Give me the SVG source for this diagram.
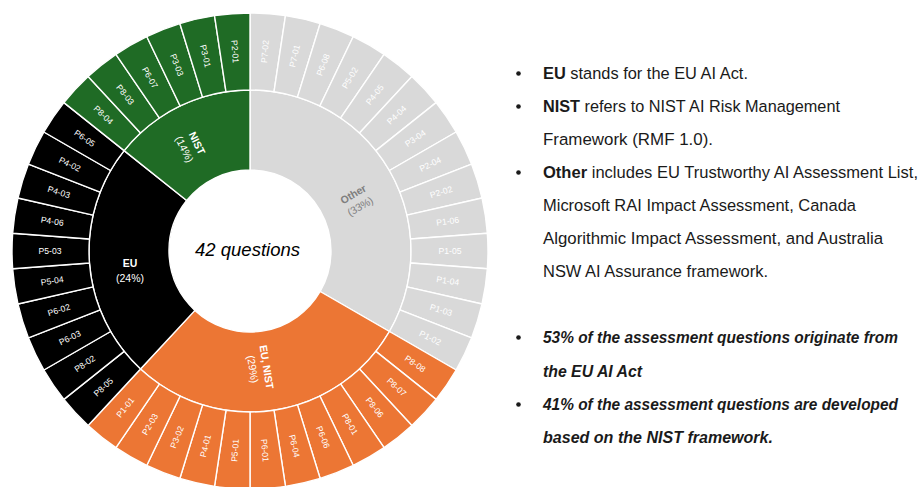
<svg xmlns="http://www.w3.org/2000/svg" xmlns:xlink="http://www.w3.org/1999/xlink" width="920" height="487" viewBox="0 0 920 487">
<style>
.w{stroke:#fff;stroke-width:1.4;stroke-linejoin:round}
.o{fill:#d9d9d9}.en{fill:#ec7634}.eu{fill:#000}.ni{fill:#1f6b25}
.lb{font-family:"Liberation Sans",Arial,sans-serif;font-size:8.6px;fill:#fff;text-anchor:middle;dominant-baseline:central}
.il{font-family:"Liberation Sans",Arial,sans-serif;font-size:10.5px;fill:#fff;text-anchor:middle}
.ib{font-weight:bold}
.tx{font-family:"Liberation Sans",Arial,sans-serif;font-size:16.3px;fill:#1a1a1a}
.bi{font-weight:bold;font-style:italic}
.bul{fill:#1a1a1a}
</style>
<defs>
<path id="wedge" d="M -17.786 -237.335 A 238 238 0 0 1 17.786 -237.335 L 12.031 -160.550 A 161 161 0 0 0 -12.031 -160.550 Z"/>
</defs>
<rect width="920" height="487" fill="#fff"/>

<g id="inner">
<g id="cat-other"><path class="o w" d="M 250 90 A 161 161 0 0 1 389.43 331.5 L 320.15 291.5 A 81 81 0 0 0 250 170 Z"/>
<text class="il" transform="translate(356.5,200) rotate(-30)" style="fill:#7f7f7f"><tspan class="ib" x="0" y="-3">Other</tspan><tspan x="0" y="11">(33%)</tspan></text></g>
<g id="cat-eunist"><path class="en w" d="M 389.43 331.5 A 161 161 0 0 1 140.49 369.02 L 194.91 310.38 A 81 81 0 0 0 320.15 291.5 Z"/>
<text class="il" transform="translate(260,368) rotate(81)"><tspan class="ib" x="0" y="-3">EU, NIST</tspan><tspan x="0" y="11">(29%)</tspan></text></g>
<g id="cat-eu"><path class="eu w" d="M 140.49 369.02 A 161 161 0 0 1 124.13 150.62 L 186.67 200.50 A 81 81 0 0 0 194.91 310.38 Z"/>
<text class="il" transform="translate(130,270)"><tspan class="ib" x="0" y="-3">EU</tspan><tspan x="0" y="12">(24%)</tspan></text></g>
<g id="cat-nist"><path class="ni w" d="M 124.13 150.62 A 161 161 0 0 1 250 90 L 250 170 A 81 81 0 0 0 186.67 200.50 Z"/>
<text class="il" transform="translate(191,146) rotate(64)"><tspan class="ib" x="0" y="-3">NIST</tspan><tspan x="0" y="11">(14%)</tspan></text></g>
</g>

<g id="outer">
<g id="s-P7-02" transform="translate(250,251) rotate(4.286)"><use href="#wedge" class="o w"/><text class="lb" transform="translate(0,-200) rotate(-90)">P7-02</text></g>
<g id="s-P7-01" transform="translate(250,251) rotate(12.857)"><use href="#wedge" class="o w"/><text class="lb" transform="translate(0,-200) rotate(-90)">P7-01</text></g>
<g id="s-P6-08" transform="translate(250,251) rotate(21.429)"><use href="#wedge" class="o w"/><text class="lb" transform="translate(0,-200) rotate(-90)">P6-08</text></g>
<g id="s-P5-02" transform="translate(250,251) rotate(30)"><use href="#wedge" class="o w"/><text class="lb" transform="translate(0,-200) rotate(-90)">P5-02</text></g>
<g id="s-P4-05" transform="translate(250,251) rotate(38.571)"><use href="#wedge" class="o w"/><text class="lb" transform="translate(0,-200) rotate(-90)">P4-05</text></g>
<g id="s-P4-04" transform="translate(250,251) rotate(47.143)"><use href="#wedge" class="o w"/><text class="lb" transform="translate(0,-200) rotate(-90)">P4-04</text></g>
<g id="s-P3-04" transform="translate(250,251) rotate(55.714)"><use href="#wedge" class="o w"/><text class="lb" transform="translate(0,-200) rotate(-90)">P3-04</text></g>
<g id="s-P2-04" transform="translate(250,251) rotate(64.286)"><use href="#wedge" class="o w"/><text class="lb" transform="translate(0,-200) rotate(-90)">P2-04</text></g>
<g id="s-P2-02" transform="translate(250,251) rotate(72.857)"><use href="#wedge" class="o w"/><text class="lb" transform="translate(0,-200) rotate(-90)">P2-02</text></g>
<g id="s-P1-06" transform="translate(250,251) rotate(81.429)"><use href="#wedge" class="o w"/><text class="lb" transform="translate(0,-200) rotate(-90)">P1-06</text></g>
<g id="s-P1-05" transform="translate(250,251) rotate(90)"><use href="#wedge" class="o w"/><text class="lb" transform="translate(0,-200) rotate(-90)">P1-05</text></g>
<g id="s-P1-04" transform="translate(250,251) rotate(98.571)"><use href="#wedge" class="o w"/><text class="lb" transform="translate(0,-200) rotate(-90)">P1-04</text></g>
<g id="s-P1-03" transform="translate(250,251) rotate(107.143)"><use href="#wedge" class="o w"/><text class="lb" transform="translate(0,-200) rotate(-90)">P1-03</text></g>
<g id="s-P1-02" transform="translate(250,251) rotate(115.714)"><use href="#wedge" class="o w"/><text class="lb" transform="translate(0,-200) rotate(-90)">P1-02</text></g>
<g id="s-P8-08" transform="translate(250,251) rotate(124.286)"><use href="#wedge" class="en w"/><text class="lb" transform="translate(0,-200) rotate(-90)">P8-08</text></g>
<g id="s-P8-07" transform="translate(250,251) rotate(132.857)"><use href="#wedge" class="en w"/><text class="lb" transform="translate(0,-200) rotate(-90)">P8-07</text></g>
<g id="s-P8-06" transform="translate(250,251) rotate(141.429)"><use href="#wedge" class="en w"/><text class="lb" transform="translate(0,-200) rotate(-90)">P8-06</text></g>
<g id="s-P8-01" transform="translate(250,251) rotate(150)"><use href="#wedge" class="en w"/><text class="lb" transform="translate(0,-200) rotate(-90)">P8-01</text></g>
<g id="s-P6-06" transform="translate(250,251) rotate(158.571)"><use href="#wedge" class="en w"/><text class="lb" transform="translate(0,-200) rotate(-90)">P6-06</text></g>
<g id="s-P6-04" transform="translate(250,251) rotate(167.143)"><use href="#wedge" class="en w"/><text class="lb" transform="translate(0,-200) rotate(-90)">P6-04</text></g>
<g id="s-P6-01" transform="translate(250,251) rotate(175.714)"><use href="#wedge" class="en w"/><text class="lb" transform="translate(0,-200) rotate(-90)">P6-01</text></g>
<g id="s-P5-01" transform="translate(250,251) rotate(184.286)"><use href="#wedge" class="en w"/><text class="lb" transform="translate(0,-200) rotate(90)">P5-01</text></g>
<g id="s-P4-01" transform="translate(250,251) rotate(192.857)"><use href="#wedge" class="en w"/><text class="lb" transform="translate(0,-200) rotate(90)">P4-01</text></g>
<g id="s-P3-02" transform="translate(250,251) rotate(201.429)"><use href="#wedge" class="en w"/><text class="lb" transform="translate(0,-200) rotate(90)">P3-02</text></g>
<g id="s-P2-03" transform="translate(250,251) rotate(210)"><use href="#wedge" class="en w"/><text class="lb" transform="translate(0,-200) rotate(90)">P2-03</text></g>
<g id="s-P1-01" transform="translate(250,251) rotate(218.571)"><use href="#wedge" class="en w"/><text class="lb" transform="translate(0,-200) rotate(90)">P1-01</text></g>
<g id="s-P8-05" transform="translate(250,251) rotate(227.143)"><use href="#wedge" class="eu w"/><text class="lb" transform="translate(0,-200) rotate(90)">P8-05</text></g>
<g id="s-P8-02" transform="translate(250,251) rotate(235.714)"><use href="#wedge" class="eu w"/><text class="lb" transform="translate(0,-200) rotate(90)">P8-02</text></g>
<g id="s-P6-03" transform="translate(250,251) rotate(244.286)"><use href="#wedge" class="eu w"/><text class="lb" transform="translate(0,-200) rotate(90)">P6-03</text></g>
<g id="s-P6-02" transform="translate(250,251) rotate(252.857)"><use href="#wedge" class="eu w"/><text class="lb" transform="translate(0,-200) rotate(90)">P6-02</text></g>
<g id="s-P5-04" transform="translate(250,251) rotate(261.429)"><use href="#wedge" class="eu w"/><text class="lb" transform="translate(0,-200) rotate(90)">P5-04</text></g>
<g id="s-P5-03" transform="translate(250,251) rotate(270)"><use href="#wedge" class="eu w"/><text class="lb" transform="translate(0,-200) rotate(90)">P5-03</text></g>
<g id="s-P4-06" transform="translate(250,251) rotate(278.571)"><use href="#wedge" class="eu w"/><text class="lb" transform="translate(0,-200) rotate(90)">P4-06</text></g>
<g id="s-P4-03" transform="translate(250,251) rotate(287.143)"><use href="#wedge" class="eu w"/><text class="lb" transform="translate(0,-200) rotate(90)">P4-03</text></g>
<g id="s-P4-02" transform="translate(250,251) rotate(295.714)"><use href="#wedge" class="eu w"/><text class="lb" transform="translate(0,-200) rotate(90)">P4-02</text></g>
<g id="s-P6-05" transform="translate(250,251) rotate(304.286)"><use href="#wedge" class="eu w"/><text class="lb" transform="translate(0,-200) rotate(90)">P6-05</text></g>
<g id="s-P8-04" transform="translate(250,251) rotate(312.857)"><use href="#wedge" class="ni w"/><text class="lb" transform="translate(0,-200) rotate(90)">P8-04</text></g>
<g id="s-P8-03" transform="translate(250,251) rotate(321.429)"><use href="#wedge" class="ni w"/><text class="lb" transform="translate(0,-200) rotate(90)">P8-03</text></g>
<g id="s-P6-07" transform="translate(250,251) rotate(330)"><use href="#wedge" class="ni w"/><text class="lb" transform="translate(0,-200) rotate(90)">P6-07</text></g>
<g id="s-P3-03" transform="translate(250,251) rotate(338.571)"><use href="#wedge" class="ni w"/><text class="lb" transform="translate(0,-200) rotate(90)">P3-03</text></g>
<g id="s-P3-01" transform="translate(250,251) rotate(347.143)"><use href="#wedge" class="ni w"/><text class="lb" transform="translate(0,-200) rotate(90)">P3-01</text></g>
<g id="s-P2-01" transform="translate(250,251) rotate(355.714)"><use href="#wedge" class="ni w"/><text class="lb" transform="translate(0,-200) rotate(90)">P2-01</text></g>
</g>

<g id="center"><text x="247.5" y="256" text-anchor="middle" font-family="Liberation Sans, Arial, sans-serif" font-style="italic" font-size="19" fill="#000" textLength="105" lengthAdjust="spacingAndGlyphs">42 questions</text></g>

<g id="notes">
<circle class="bul" cx="518.5" cy="73.5" r="2.3"/>
<circle class="bul" cx="518.5" cy="106.5" r="2.3"/>
<circle class="bul" cx="518.5" cy="172.5" r="2.3"/>
<circle class="bul" cx="518.5" cy="337.5" r="2.3"/>
<circle class="bul" cx="518.5" cy="404.5" r="2.3"/>
<text class="tx" x="543" y="79" textLength="205" lengthAdjust="spacingAndGlyphs"><tspan font-weight="bold">EU</tspan> stands for the EU AI Act.</text>
<text class="tx" x="543" y="112" textLength="297" lengthAdjust="spacingAndGlyphs"><tspan font-weight="bold">NIST</tspan> refers to NIST AI Risk Management</text>
<text class="tx" x="543" y="145" textLength="170" lengthAdjust="spacingAndGlyphs">Framework (RMF 1.0).</text>
<text class="tx" x="543" y="178" textLength="375" lengthAdjust="spacingAndGlyphs"><tspan font-weight="bold">Other</tspan> includes EU Trustworthy AI Assessment List,</text>
<text class="tx" x="543" y="211" textLength="313" lengthAdjust="spacingAndGlyphs">Microsoft RAI Impact Assessment, Canada</text>
<text class="tx" x="543" y="244" textLength="340" lengthAdjust="spacingAndGlyphs">Algorithmic Impact Assessment, and Australia</text>
<text class="tx" x="543" y="277" textLength="225" lengthAdjust="spacingAndGlyphs">NSW AI Assurance framework.</text>
<text class="tx bi" x="543" y="343" textLength="355" lengthAdjust="spacingAndGlyphs">53% of the assessment questions originate from</text>
<text class="tx bi" x="543" y="377" textLength="99" lengthAdjust="spacingAndGlyphs">the EU AI Act</text>
<text class="tx bi" x="543" y="410" textLength="355" lengthAdjust="spacingAndGlyphs">41% of the assessment questions are developed</text>
<text class="tx bi" x="543" y="443" textLength="230" lengthAdjust="spacingAndGlyphs">based on the NIST framework.</text>
</g>
</svg>
